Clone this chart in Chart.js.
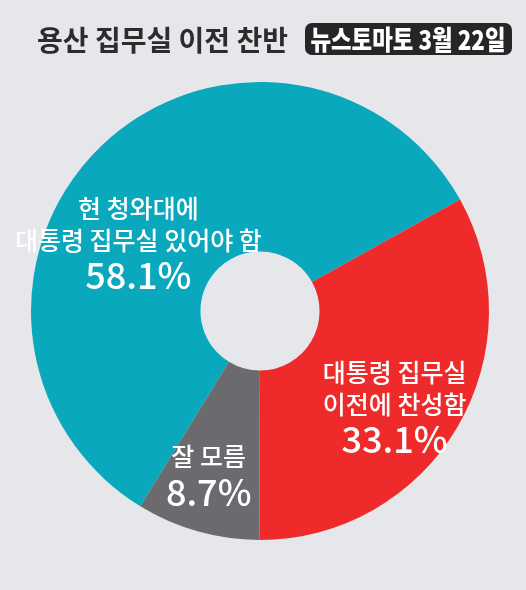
<!DOCTYPE html>
<html>
<head>
<meta charset="utf-8">
<script src="https://cdn.jsdelivr.net/npm/chart.js@4/dist/chart.umd.min.js"></script>
<style>
  html, body { margin: 0; padding: 0; background: #e6e7eb; }
  #wrap { width: 526px; height: 590px; }
</style>
</head>
<body>
<div id="wrap"><canvas id="myChart" width="526" height="590"></canvas></div>
<script>
// données du sondage
var categories = ['현 청와대에 대통령 집무실 있어야 함', '대통령 집무실 이전에 찬성함', '잘 모름'];
var labelLines = [['현 청와대에', '대통령 집무실 있어야 함'], ['대통령 집무실', '이전에 찬성함'], ['잘 모름']];
var values = [58.1, 33.1, 8.7];
var colors = ['#0aa8bd', '#ee2a2b', '#6a6a6f'];
var titleText = '용산 집무실 이전 찬반';
var badgeText = '뉴스토마토 3월 22일';

var FONT = '"Noto Sans CJK KR", "Noto Sans", sans-serif';

// position des étiquettes : fraction de l'angle du secteur (t) et du rayon (r)
var labelPlace = [{ t: 0.42, r: 0.61 }, { t: 0.54, r: 0.72 }, { t: 0.55, r: 0.75 }];

var labelPlugin = {
    id: 'labelPlugin',
    afterDraw: function (chart) {
        var ctx = chart.ctx;
        ctx.save();

        // titre
        ctx.fillStyle = '#2c2c2c';
        ctx.font = 'bold 28px ' + FONT;
        ctx.textAlign = 'left';
        ctx.textBaseline = 'middle';
        ctx.fillText(titleText, 37, 40);

        // badge
        ctx.fillStyle = '#262626';
        ctx.beginPath();
        ctx.roundRect(305, 23, 207, 32, 7);
        ctx.fill();
        ctx.fillStyle = '#ffffff';
        ctx.font = '900 27px ' + FONT;
        ctx.textAlign = 'center';
        ctx.fillText(badgeText, 408, 40, 195);

        // étiquettes des secteurs
        var meta = chart.getDatasetMeta(0);
        meta.data.forEach(function (arc, i) {
            var p = arc.getProps(['x', 'y', 'startAngle', 'endAngle', 'outerRadius'], true);
            var a = p.startAngle + labelPlace[i].t * (p.endAngle - p.startAngle);
            var cx = p.x + Math.cos(a) * p.outerRadius * labelPlace[i].r;
            var cy = p.y + Math.sin(a) * p.outerRadius * labelPlace[i].r;
            var lines = labelLines[i];
            var total = lines.length * 32 + 36;
            var y = cy - total / 2 + 16;
            ctx.fillStyle = '#ffffff';
            ctx.textAlign = 'center';
            ctx.font = '500 25px ' + FONT;
            lines.forEach(function (l) {
                ctx.fillText(l, cx, y);
                y += 32;
            });
            y += 3;
            ctx.font = '500 36px ' + FONT;
            ctx.fillText(values[i].toFixed(1) + '%', cx, y);
        });
        ctx.restore();
    }
};

const ctx = document.getElementById('myChart').getContext('2d');
const myChart = new Chart(ctx, {
    type: 'doughnut',
    data: {
        labels: categories,
        datasets: [{
            data: values,
            backgroundColor: colors,
            borderWidth: 0
        }]
    },
    options: {
        responsive: false,
        animation: false,
        rotation: -148.5,
        cutout: '26%',
        layout: {
            padding: { top: 82, bottom: 50, left: 31, right: 37 }
        },
        plugins: {
            legend: { display: false },
            tooltip: { enabled: false },
            title: { display: false }
        }
    },
    plugins: [labelPlugin]
});
</script>
</body>
</html>
